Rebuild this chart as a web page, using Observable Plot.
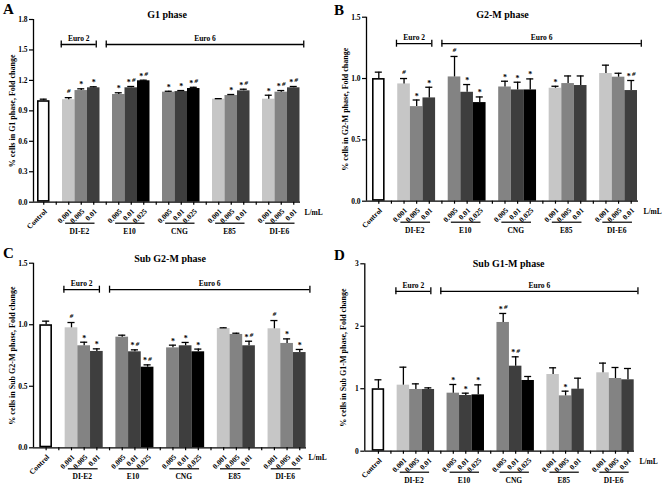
<!DOCTYPE html>
<html><head><meta charset="utf-8">
<script src="https://cdn.jsdelivr.net/npm/d3@7"></script>
<script src="https://cdn.jsdelivr.net/npm/@observablehq/plot@0.6"></script>
<style>
body{margin:0;background:#fff;}
#fig{position:relative;width:662px;height:485px;overflow:hidden;background:#fff;font-family:"Liberation Serif","Times New Roman",serif;}
.panel{position:absolute;}
.letter{position:absolute;font-weight:bold;font-size:15px;line-height:15px;color:#000;}
</style></head><body><div id="fig"></div>
<script>
// ---- categories ----
const controlLabel = "Control";
const groups = ["DI-E2", "E10", "CNG", "E85", "DI-E6"];
const groupConcs = [
  ["0.001", "0.005", "0.01"],
  ["0.005", "0.01", "0.025"],
  ["0.005", "0.01", "0.025"],
  ["0.001", "0.005", "0.01"],
  ["0.001", "0.005", "0.01"]
];
const concKeys = ["control", "0.001", "0.005", "0.01", "0.025"];
const concFills = ["#ffffff", "#c6c6c6", "#838383", "#3e3e3e", "#000000"];
const euroBrackets = [
  {label: "Euro 2", from: "DI-E2", to: "DI-E2"},
  {label: "Euro 6", from: "E10", to: "DI-E6"}
];
const unitLabel = "L/mL";

// ---- panel texts ----
const panelLetters = ["A", "B", "C", "D"];
const titles = ["G1 phase", "G2-M phase", "Sub G2-M phase", "Sub G1-M phase"];
const yLabels = [
  "% cells in G1 phase, Fold change",
  "% cells in G2-M phase, Fold change",
  "% cells in Sub G2-M phase, Fold change",
  "% cells in Sub G1-M phase, Fold change"
];
const yTicksA = [0, 0.3, 0.6, 0.9, 1.2, 1.5, 1.8];
const yTicksB = [0, 0.5, 1.0, 1.5];
const yTicksC = [0, 0.5, 1.0, 1.5];
const yTicksD = [0, 1, 2, 3];

// ---- series: order = Control, DI-E2 x3, E10 x3, CNG x3, E85 x3, DI-E6 x3 ----
const g1Mean = [1.00, 1.01, 1.10, 1.127, 1.061, 1.127, 1.196, 1.084, 1.09, 1.12, 1.015, 1.051, 1.097, 1.015, 1.084, 1.127];
const g1Err  = [0.015, 0.02, 0.017, 0.01, 0.017, 0.013, 0.006, 0.009, 0.01, 0.012, 0.005, 0.01, 0.016, 0.039, 0.016, 0.013];
const g1Sig  = ["", "#", "*", "*", "*", "*#", "*#", "*", "*", "*#", "", "*", "*#", "*", "*#", "*#"];

const g2mMean = [1.0, 0.956, 0.771, 0.842, 1.013, 0.888, 0.804, 0.931, 0.907, 0.907, 0.921, 0.959, 0.943, 1.041, 1.011, 0.902];
const g2mErr  = [0.052, 0.044, 0.054, 0.087, 0.167, 0.063, 0.046, 0.047, 0.063, 0.09, 0.016, 0.062, 0.078, 0.068, 0.032, 0.082];
const g2mSig  = ["", "#", "*", "*", "#", "*", "*", "*", "*", "*", "*", "", "", "", "", "*#"];

const subG2mMean = [1.0, 0.975, 0.829, 0.783, 0.899, 0.78, 0.655, 0.812, 0.829, 0.78, 0.969, 0.921, 0.829, 0.967, 0.848, 0.774];
const subG2mErr  = [0.029, 0.043, 0.029, 0.021, 0.016, 0.016, 0.019, 0.022, 0.027, 0.022, 0.006, 0.01, 0.037, 0.067, 0.037, 0.025];
const subG2mSig  = ["", "#", "*", "*", "", "*#", "*#", "*", "*", "*", "", "", "*#", "#", "*", "*"];

const subG1mMean = [1.0, 1.057, 0.988, 0.988, 0.929, 0.892, 0.902, 2.061, 1.361, 1.132, 1.228, 0.886, 0.993, 1.255, 1.164, 1.143];
const subG1mErr  = [0.143, 0.288, 0.09, 0.026, 0.139, 0.037, 0.16, 0.144, 0.15, 0.064, 0.107, 0.075, 0.176, 0.155, 0.176, 0.181];
const subG1mSig  = ["", "", "", "", "*", "*", "*", "*#", "*#", "", "", "*", "", "", "", ""];

// ---- layout (pixels) ----
const layouts = [
  {left: 0,   top: 0,   h: 240, axisX: 33,    barL: 37,    barR: 299.5, axisEnd: 300, yTop: 19,    y0: 201.7, titleDy: -5,  titleDx: 0, bracketDy: 25,   lmDx: 4, letterTop: 1.5},
  {left: 331, top: 0,   h: 240, axisX: 366,   barL: 372,   barR: 637,   axisEnd: 638, yTop: 16.7,  y0: 200.7, titleDy: -2,  titleDx: 0, bracketDy: 26.5, lmDx: 5, letterTop: 2.5},
  {left: 0,   top: 240, h: 245, axisX: 33,    barL: 39.3,  barR: 305.6, axisEnd: 306, yTop: 262.7, y0: 447.3, titleDy: -4,  titleDx: 0, bracketDy: 26.5, lmDx: 2, letterTop: 245.5},
  {left: 331, top: 240, h: 245, axisX: 364.3, barL: 371.7, barR: 633.7, axisEnd: 634, yTop: 263.3, y0: 450.7, titleDy: 0,   titleDx: 9, bracketDy: 27.5, lmDx: 5, letterTop: 247.5}
];

const panels = [
  {mean: g1Mean, err: g1Err, sig: g1Sig, ticks: yTicksA, fmt: d3.format(".1f")},
  {mean: g2mMean, err: g2mErr, sig: g2mSig, ticks: yTicksB, fmt: d3.format(".1f")},
  {mean: subG2mMean, err: subG2mErr, sig: subG2mSig, ticks: yTicksC, fmt: d3.format(".1f")},
  {mean: subG1mMean, err: subG1mErr, sig: subG1mSig, ticks: yTicksD, fmt: d3.format("d")}
];

const groupStart = gi => 2 + gi * 4;
const allSlots = d3.range(0, 2 + groups.length * 4 - 1);

function buildRows(mean, err, sig) {
  const rows = [{slot: 0, label: controlLabel, conc: "control", value: mean[0], err: err[0], sig: sig[0]}];
  groups.forEach((g, gi) => groupConcs[gi].forEach((c, j) => {
    const k = 1 + gi * 3 + j;
    rows.push({slot: groupStart(gi) + j, label: c, conc: c, group: g, value: mean[k], err: err[k], sig: sig[k]});
  }));
  return rows;
}

const groupRows = groups.map((g, gi) => ({group: g, first: groupStart(gi), last: groupStart(gi) + groupConcs[gi].length - 1}));

const fig = document.getElementById("fig");

panels.forEach((P, pi) => {
  const L = layouts[pi];
  const rows = buildRows(P.mean, P.err, P.sig);
  const yMax = P.ticks[P.ticks.length - 1];
  const unit = (L.barR - L.barL) / (allSlots.length);
  const dmin = -0.5 - (L.barL - L.axisX) / unit;
  const dmax = allSlots.length - 0.5 + (L.axisEnd - L.barR) / unit;
  const ppu = (L.y0 - L.yTop) / yMax;
  const yBr = yMax - L.bracketDy / ppu;
  const capH = 3.5 / ppu;

  const brackets = euroBrackets.map(b => {
    const f = groupRows.find(g => g.group === b.from), t = groupRows.find(g => g.group === b.to);
    const x1 = b.label === "Euro 2" ? f.first - 0.6 : f.first - 1.0;
    const x2 = b.label === "Euro 2" ? t.last + 0.2 : t.last + 0.8;
    return {label: b.label, x1, x2, y: yBr};
  });
  const bracketEnds = brackets.flatMap(b => [{x: b.x1, y: b.y}, {x: b.x2, y: b.y}]);

  const textStyle = {fontFamily: "'Liberation Serif','Times New Roman',serif", fontWeight: "bold", fill: "black"};
  const top = r => r.value + r.err;

  const chart = Plot.plot({
    width: 331,
    height: L.h,
    marginLeft: L.axisX - L.left,
    marginRight: L.left + 331 - L.axisEnd,
    marginTop: L.yTop - L.top,
    marginBottom: L.top + L.h - L.y0,
    x: {domain: [dmin, dmax]},
    y: {domain: [0, yMax]},
    color: {domain: concKeys, range: concFills},
    style: {fontFamily: "'Liberation Serif','Times New Roman',serif", fontSize: "8px", fontWeight: "bold", background: "transparent", color: "black", overflow: "visible"},
    marks: [
      // bars
      Plot.rect(rows.filter(r => r.conc !== "control"), {x1: r => r.slot - 0.5, x2: r => r.slot + 0.5, y1: 0, y2: "value", fill: "conc"}),
      Plot.rect(rows.filter(r => r.conc === "control"), {x1: r => r.slot - 0.5, x2: r => r.slot + 0.5, y1: 0, y2: "value", fill: "white", stroke: "black", strokeWidth: 1.6, inset: 0.8}),
      // error bars
      Plot.ruleX(rows, {x: "slot", y1: "value", y2: top, stroke: "black", strokeWidth: 1.3}),
      Plot.ruleY(rows, {y: top, x1: r => r.slot - 0.28, x2: r => r.slot + 0.28, stroke: "black", strokeWidth: 1.3}),
      // significance marks
      Plot.text(rows.filter(r => r.sig === "*"), {x: "slot", y: top, text: () => "*", dy: -4, fontSize: 8, ...textStyle}),
      Plot.text(rows.filter(r => r.sig === "*#"), {x: "slot", y: top, text: () => "*", dy: -4, dx: -2.5, fontSize: 8, ...textStyle}),
      Plot.text(rows.filter(r => r.sig === "#"), {x: "slot", y: top, text: () => "#", dy: -6.5, fontSize: 7, fontStyle: "italic", ...textStyle}),
      Plot.text(rows.filter(r => r.sig === "*#"), {x: "slot", y: top, text: () => "#", dy: -6.5, dx: 2.5, fontSize: 7, fontStyle: "italic", ...textStyle}),
      // axes
      Plot.axisY({ticks: P.ticks, tickFormat: P.fmt, tickSize: 4, tickPadding: 2, fontSize: 7.5, label: null, strokeWidth: 1.2}),
      Plot.axisX({ticks: allSlots, tickFormat: () => "", tickSize: 3, label: null, strokeWidth: 1.2}),
      Plot.ruleX([dmin], {stroke: "black", strokeWidth: 1.3}),
      Plot.ruleY([0], {stroke: "black", strokeWidth: 1.3}),
      // tick labels
      Plot.text(rows, {x: "slot", y: 0, text: "label", rotate: -45, textAnchor: "end", lineAnchor: "middle", dx: 2, dy: 8, fontSize: 7.5, ...textStyle}),
      // group lines + labels
      Plot.ruleY(groupRows, {y: 0, x1: g => g.first - 0.25, x2: g => g.last + 0.1, dy: 21, stroke: "black", strokeWidth: 1.2}),
      Plot.text(groupRows, {x: g => (g.first + g.last) / 2 - 0.15, y: 0, text: "group", dy: 29, fontSize: 7.5, ...textStyle}),
      Plot.text([unitLabel], {x: dmax, y: 0, text: d => d, dx: L.lmDx, dy: 10, textAnchor: "start", fontSize: 7.5, ...textStyle}),
      // Euro brackets
      Plot.ruleY(brackets, {y: "y", x1: "x1", x2: "x2", stroke: "black", strokeWidth: 1.3}),
      Plot.ruleX(bracketEnds, {x: "x", y1: d => d.y - capH, y2: d => d.y + capH, stroke: "black", strokeWidth: 1.3}),
      Plot.text(brackets, {x: b => (b.x1 + b.x2) / 2, y: "y", text: "label", dy: -6, fontSize: 7.5, ...textStyle}),
      // title & y label
      Plot.text([titles[pi]], {frameAnchor: "top", text: d => d, dy: L.titleDy, dx: L.titleDx, lineAnchor: "middle", textAnchor: "middle", fontSize: 10, ...textStyle}),
      Plot.text([yLabels[pi]], {frameAnchor: "left", text: d => d, rotate: -90, dx: -21, textAnchor: "middle", lineAnchor: "middle", fontSize: 8, ...textStyle})
    ]
  });
  chart.classList.add("panel");
  chart.style.left = L.left + "px";
  chart.style.top = L.top + "px";
  fig.appendChild(chart);

  const letter = document.createElement("div");
  letter.className = "letter";
  letter.textContent = panelLetters[pi];
  letter.style.left = (L.left + 3) + "px";
  letter.style.top = L.letterTop + "px";
  fig.appendChild(letter);
});
</script>
</body></html>
